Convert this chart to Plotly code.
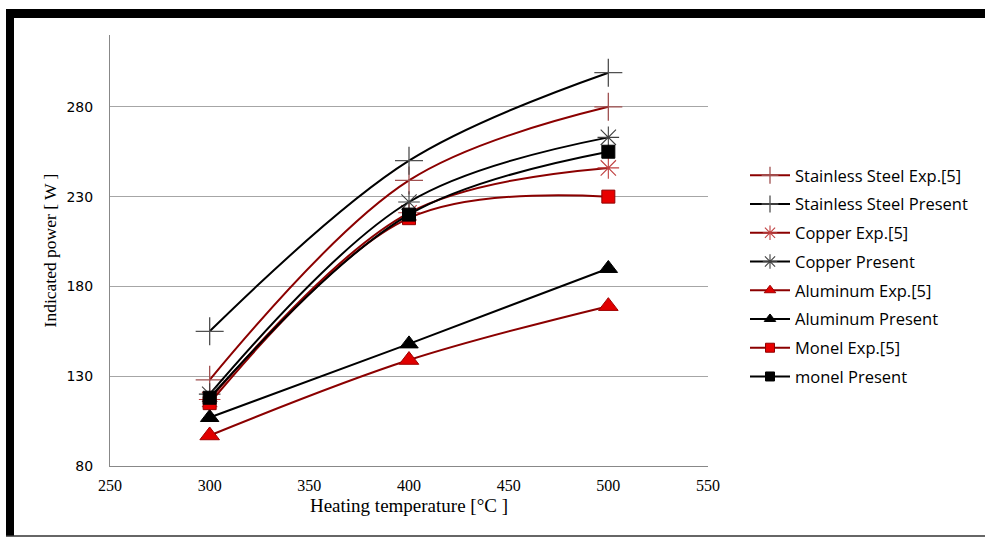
import plotly.graph_objects as go

temps = [300, 400, 500]
ss_exp = [128, 239, 280]
ss_present = [155, 250, 299]
cu_exp = [117, 221, 246]
cu_present = [120, 227, 263]
al_exp = [97, 139, 169]
al_present = [107, 148, 190]
monel_exp = [115, 218, 230]
monel_present = [118, 220, 255]

names = ["Stainless Steel Exp.[5]", "Stainless Steel Present", "Copper Exp.[5]", "Copper Present",
         "Aluminum Exp.[5]", "Aluminum Present", "Monel Exp.[5]", "monel Present"]
series = [ss_exp, ss_present, cu_exp, cu_present, al_exp, al_present, monel_exp, monel_present]

RED = "#8b0000"
BLACK = "#000000"
styles = [
    dict(lc=RED, sym="cross-thin", size=20, lsize=12, mc="#a05050", mlc="#a05050", mlw=1.3),
    dict(lc=BLACK, sym="cross-thin", size=20, lsize=12, mc="#505050", mlc="#505050", mlw=1.3),
    dict(lc=RED, sym="asterisk", size=18, lsize=12, mc="#c04040", mlc="#c04040", mlw=1.1),
    dict(lc=BLACK, sym="asterisk", size=18, lsize=12, mc="#404040", mlc="#404040", mlw=1.1),
    dict(lc=RED, sym="triangle-up", size=17, lsize=10, mc="#e00000", mlc="#a00000", mlw=1),
    dict(lc=BLACK, sym="triangle-up", size=16, lsize=10, mc="#000000", mlc="#000000", mlw=1),
    dict(lc=RED, sym="square", size=13, lsize=9, mc="#e80000", mlc="#900000", mlw=1),
    dict(lc=BLACK, sym="square", size=13, lsize=9, mc="#000000", mlc="#000000", mlw=1),
]

fig = go.Figure()
for i, (nm, ys, st) in enumerate(zip(names, series, styles)):
    fig.add_trace(go.Scatter(
        x=temps, y=ys, name=nm, mode="lines+markers",
        line=dict(color=st["lc"], width=2, shape="spline", smoothing=1.0),
        marker=dict(symbol=st["sym"], size=st["size"], color=st["mc"],
                    line=dict(color=st["mlc"], width=st["mlw"])),
        legendgroup=str(i), showlegend=False,
    ))
    # legend-only entry with smaller marker
    fig.add_trace(go.Scatter(
        x=[None], y=[None], name=nm, mode="lines+markers",
        line=dict(color=st["lc"], width=2),
        marker=dict(symbol=st["sym"], size=st["lsize"], color=st["mc"],
                    line=dict(color=st["mlc"], width=st["mlw"])),
        legendgroup=str(i), showlegend=True,
    ))

W, H = 985, 538
L, R, T, B = 110, 708, 35, 466
pw, ph = R - L, B - T

def px(x):
    return (x - L) / pw

def py(y):
    return (B - y) / ph

shapes = [
    dict(type="rect", xref="paper", yref="paper", x0=px(6), x1=px(14), y0=py(536), y1=py(9),
         fillcolor="black", line=dict(width=0), layer="above"),
    dict(type="rect", xref="paper", yref="paper", x0=px(6), x1=px(990), y0=py(18), y1=py(9),
         fillcolor="black", line=dict(width=0), layer="above"),
    dict(type="line", xref="paper", yref="paper", x0=px(6), x1=px(990), y0=py(536), y1=py(536),
         line=dict(color="#333333", width=1.5)),
]

fig.update_layout(
    width=W, height=H,
    margin=dict(l=L, r=W - R, t=T, b=H - B),
    paper_bgcolor="white", plot_bgcolor="white",
    showlegend=True,
    legend=dict(x=px(745), y=py(158), xanchor="left", yanchor="top",
                font=dict(family="Open Sans", size=16.5, color="#000000"),
                tracegroupgap=4.3, itemwidth=40,
                bgcolor="rgba(0,0,0,0)"),
    shapes=shapes,
    xaxis=dict(range=[250, 550], tick0=250, dtick=50, showgrid=False,
               showline=True, linecolor="#888888", linewidth=1, zeroline=False,
               ticks="", tickfont=dict(family="Liberation Serif", size=16, color="#000"),
               ticklabelstandoff=5,
               title=dict(text="Heating temperature [°C ]",
                          font=dict(family="Liberation Serif", size=19, color="#000"),
                          standoff=5)),
    yaxis=dict(range=[80, 320], tick0=80, dtick=50, showgrid=True, gridcolor="#a6a6a6",
               gridwidth=1, showline=True, linecolor="#888888", linewidth=1, zeroline=False,
               ticks="", tickfont=dict(family="DejaVu Sans", size=14, color="#000"),
               ticklabelstandoff=13,
               title=dict(text="Indicated power [ W ]",
                          font=dict(family="Liberation Serif", size=17.5, color="#000"),
                          standoff=5)),
)

fig.write_html("out.html")
